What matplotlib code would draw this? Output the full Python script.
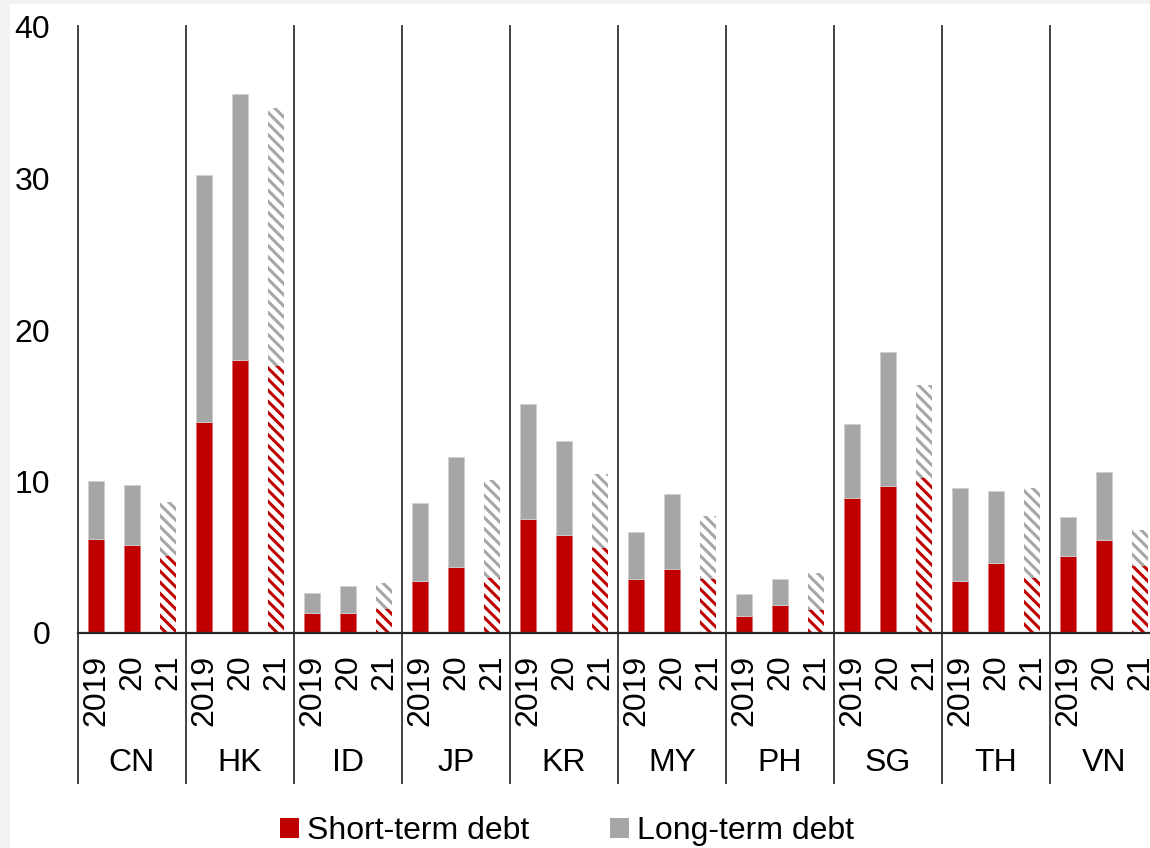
import matplotlib.pyplot as plt
from matplotlib.patches import Patch, Rectangle
from matplotlib import transforms

plt.rcParams['font.family'] = ['Liberation Sans', 'DejaVu Sans']
plt.rcParams['hatch.linewidth'] = 2.2

countries = ['CN', 'HK', 'ID', 'JP', 'KR', 'MY', 'PH', 'SG', 'TH', 'VN']
years = ['2019', '20', '21']

# short-term debt, per country: 2019, 2020, 2021
short_term = [
    [6.2, 5.8, 5.1],
    [13.9, 18.0, 17.6],
    [1.3, 1.35, 1.6],
    [3.45, 4.35, 3.6],
    [7.55, 6.45, 5.6],
    [3.55, 4.2, 3.55],
    [1.15, 1.85, 1.5],
    [8.9, 9.7, 10.2],
    [3.45, 4.65, 3.6],
    [5.05, 6.15, 4.4],
]
# total debt (short + long), per country: 2019, 2020, 2021
total = [
    [10.05, 9.75, 8.65],
    [30.2, 35.6, 34.65],
    [2.65, 3.1, 3.3],
    [8.6, 11.6, 10.1],
    [15.1, 12.65, 10.5],
    [6.65, 9.15, 7.7],
    [2.55, 3.55, 3.95],
    [13.8, 18.55, 16.35],
    [9.6, 9.4, 9.55],
    [7.65, 10.6, 6.8],
]

red = '#c00000'
grey = '#a6a6a6'
fs = 23

fig = plt.figure(figsize=(11.5, 8.48), dpi=100, facecolor='#f2f2f2')
fig.patches.append(Rectangle((10 / 1150, 0), 1, 1 - 4 / 848, transform=fig.transFigure,
                             facecolor='white', edgecolor='none', zorder=-10))
ax = fig.add_axes([78 / 1150, 215 / 848, 1072 / 1150, 606 / 848])
ax.set_facecolor('none')

width = 0.42
for g, c in enumerate(countries):
    for j, yr in enumerate(years):
        x = g * 3 + j
        st = short_term[g][j]
        lt = total[g][j] - st
        if j < 2:
            ax.bar(x, st, width, color=red, edgecolor='#e07070', linewidth=0.6)
            ax.bar(x, lt, width, bottom=st, color=grey, edgecolor='#d0d0d0', linewidth=0.6)
        else:
            ax.bar(x, st, width, facecolor='white', edgecolor=red, hatch='\\\\\\', linewidth=0)
            ax.bar(x, lt, width, bottom=st, facecolor='white', edgecolor=grey, hatch='\\\\\\', linewidth=0)

ax.set_xlim(-0.5, 29.278)
ax.set_ylim(0, 40)
ax.set_yticks([0, 10, 20, 30, 40])
ax.tick_params(axis='y', length=0, pad=20, labelsize=fs)
ax.set_xticks([])
for s in ['left', 'right', 'top']:
    ax.spines[s].set_visible(False)
ax.spines['bottom'].set_color('#262626')
ax.spines['bottom'].set_linewidth(1.6)

trans = transforms.blended_transform_factory(ax.transData, ax.transAxes)
for g, c in enumerate(countries):
    x0 = g * 3 - 0.5
    ax.plot([x0, x0], [1.0016, -0.2475], transform=trans, color='#333333', lw=1.3,
            clip_on=False)
    for j, yr in enumerate(years):
        ax.text(g * 3 + j, -0.036, yr, transform=trans, rotation=90, ha='center',
                va='top', fontsize=fs)
    ax.text(g * 3 + 1, -0.2145, c, transform=trans, ha='center', va='center', fontsize=fs)

handles = [Patch(facecolor=red, label='Short-term debt'),
           Patch(facecolor=grey, label='Long-term debt')]
fig.legend(handles=handles, loc='center', bbox_to_anchor=(0.493, 0.02), ncol=2,
           frameon=False, fontsize=fs, handlelength=0.6, handleheight=0.6,
           handletextpad=0.25, columnspacing=2.5)

fig.savefig('out.png', dpi=100, facecolor=fig.get_facecolor())
